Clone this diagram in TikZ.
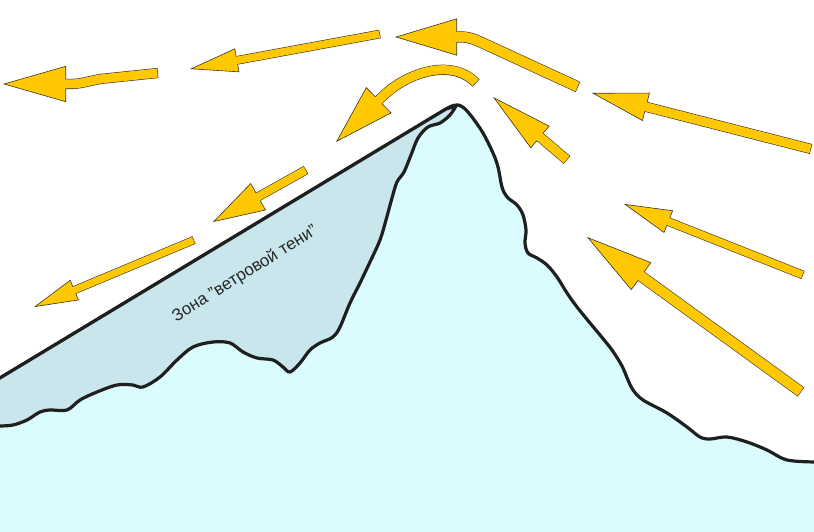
\documentclass[tikz,border=0pt]{standalone}
\usepackage{fontspec}
\setmainfont{Liberation Sans}
\usetikzlibrary{arrows.meta}
\definecolor{snowblue}{HTML}{DAFCFE}
\definecolor{shadeblue}{HTML}{C8E6EB}
\definecolor{windyellow}{HTML}{FFC800}
\definecolor{windrim}{HTML}{3A3628}
\tikzset{
  ridge/.style={draw=black!88, line width=3.2pt, line join=round, line cap=round},
  zonetext/.style={font=\fontsize{17}{20}\selectfont, text=black!85, inner sep=0pt},
  arrowrim/.style={draw=windrim},
  arrowcore/.style={draw=windyellow}
}
% #1 head length, #2 head width, #3 shaft width, #4 path (tail ... tip)
\newcommand{\windarrow}[4]{
  \pgfmathsetlengthmacro\shaftout{#3+1.2pt}
  \pgfmathsetlengthmacro\corecut{#1-4pt}
  \draw[arrowrim, line width=\shaftout, -{Triangle[length=#1, width=#2, line width=0.6pt, fill=windyellow]}] #4;
  \draw[arrowcore, line width=#3, shorten <=0.6pt, shorten >=\corecut] #4;
}

\begin{document}
\begin{tikzpicture}[x=1pt, y=-1pt]
  \useasboundingbox (0,0) rectangle (814,532);
  % mountain, closing edges lie outside the page
  \filldraw[fill=snowblue, ridge] (-10,384) -- plot[smooth, tension=0.55] coordinates {
    (446,109) (452,106) (458,105) (464,108) (472,117) (483,133) (493,153) (498,167)
    (502,187) (507,197) (517,205) (523,215) (526,230) (525,243) (528,253) (537,258)
    (547,265) (557,277) (567,293) (577,307) (590,323) (600,335) (612,350) (622,366)
    (628,380) (633,390) (643,400) (667,413) (687,427) (700,437) (710,439) (727,437)
    (747,442) (767,450) (787,460) (816,462)} -- (830,462) -- (830,545) -- (-10,545) -- cycle;
  % wind shadow zone
  \filldraw[fill=shadeblue, ridge] (-10,384) -- (446,109) -- plot[smooth, tension=0.55] coordinates {
    (456,106) (450,115) (440,123) (428,127) (418,138) (411,155) (404,172) (397,182)
    (392,198) (386,220) (380,240) (370,262) (360,283) (350,303) (340,327) (333,337)
    (320,343) (310,350) (300,363) (290,372) (283,367) (273,360) (257,358) (243,352)
    (230,343) (213,342) (193,347) (177,360) (160,377) (143,387) (133,385) (117,385)
    (97,392) (80,400) (67,410) (50,410) (40,412) (27,420) (13,425) (0,426)} -- (-10,426) -- cycle;
  \node[zonetext, rotate=32] (zone) at (245,274) {Зона "ветровой тени"};

  % wind arrows
  \windarrow{63pt}{36pt}{9pt}{(158,73) -- (100,79) .. controls (85,82) and (80,84) .. (70,84) -- (3,84)}
  \windarrow{48pt}{24pt}{7.5pt}{(380,34) -- (190,69)}
  \windarrow{62pt}{37pt}{10pt}{(578,87) -- (487,45) .. controls (474,39) and (470,37) .. (461,37) -- (395,37)}
  \windarrow{60pt}{36pt}{9pt}{(476,83) .. controls (452,58) and (408,72) .. (383,96) -- (336,142)}
  \windarrow{62pt}{29pt}{9pt}{(567,160) -- (493,97)}
  \windarrow{56pt}{29pt}{9pt}{(811,149) -- (592,93)}
  \windarrow{48pt}{24pt}{7.5pt}{(803,275) -- (624,204)}
  \windarrow{67pt}{34pt}{10pt}{(801,392) -- (587,237)}
  \windarrow{52pt}{31pt}{8pt}{(306,170) -- (213,222)}
  \windarrow{44pt}{22pt}{7pt}{(194,240) -- (34,307)}
\end{tikzpicture}
\end{document}
